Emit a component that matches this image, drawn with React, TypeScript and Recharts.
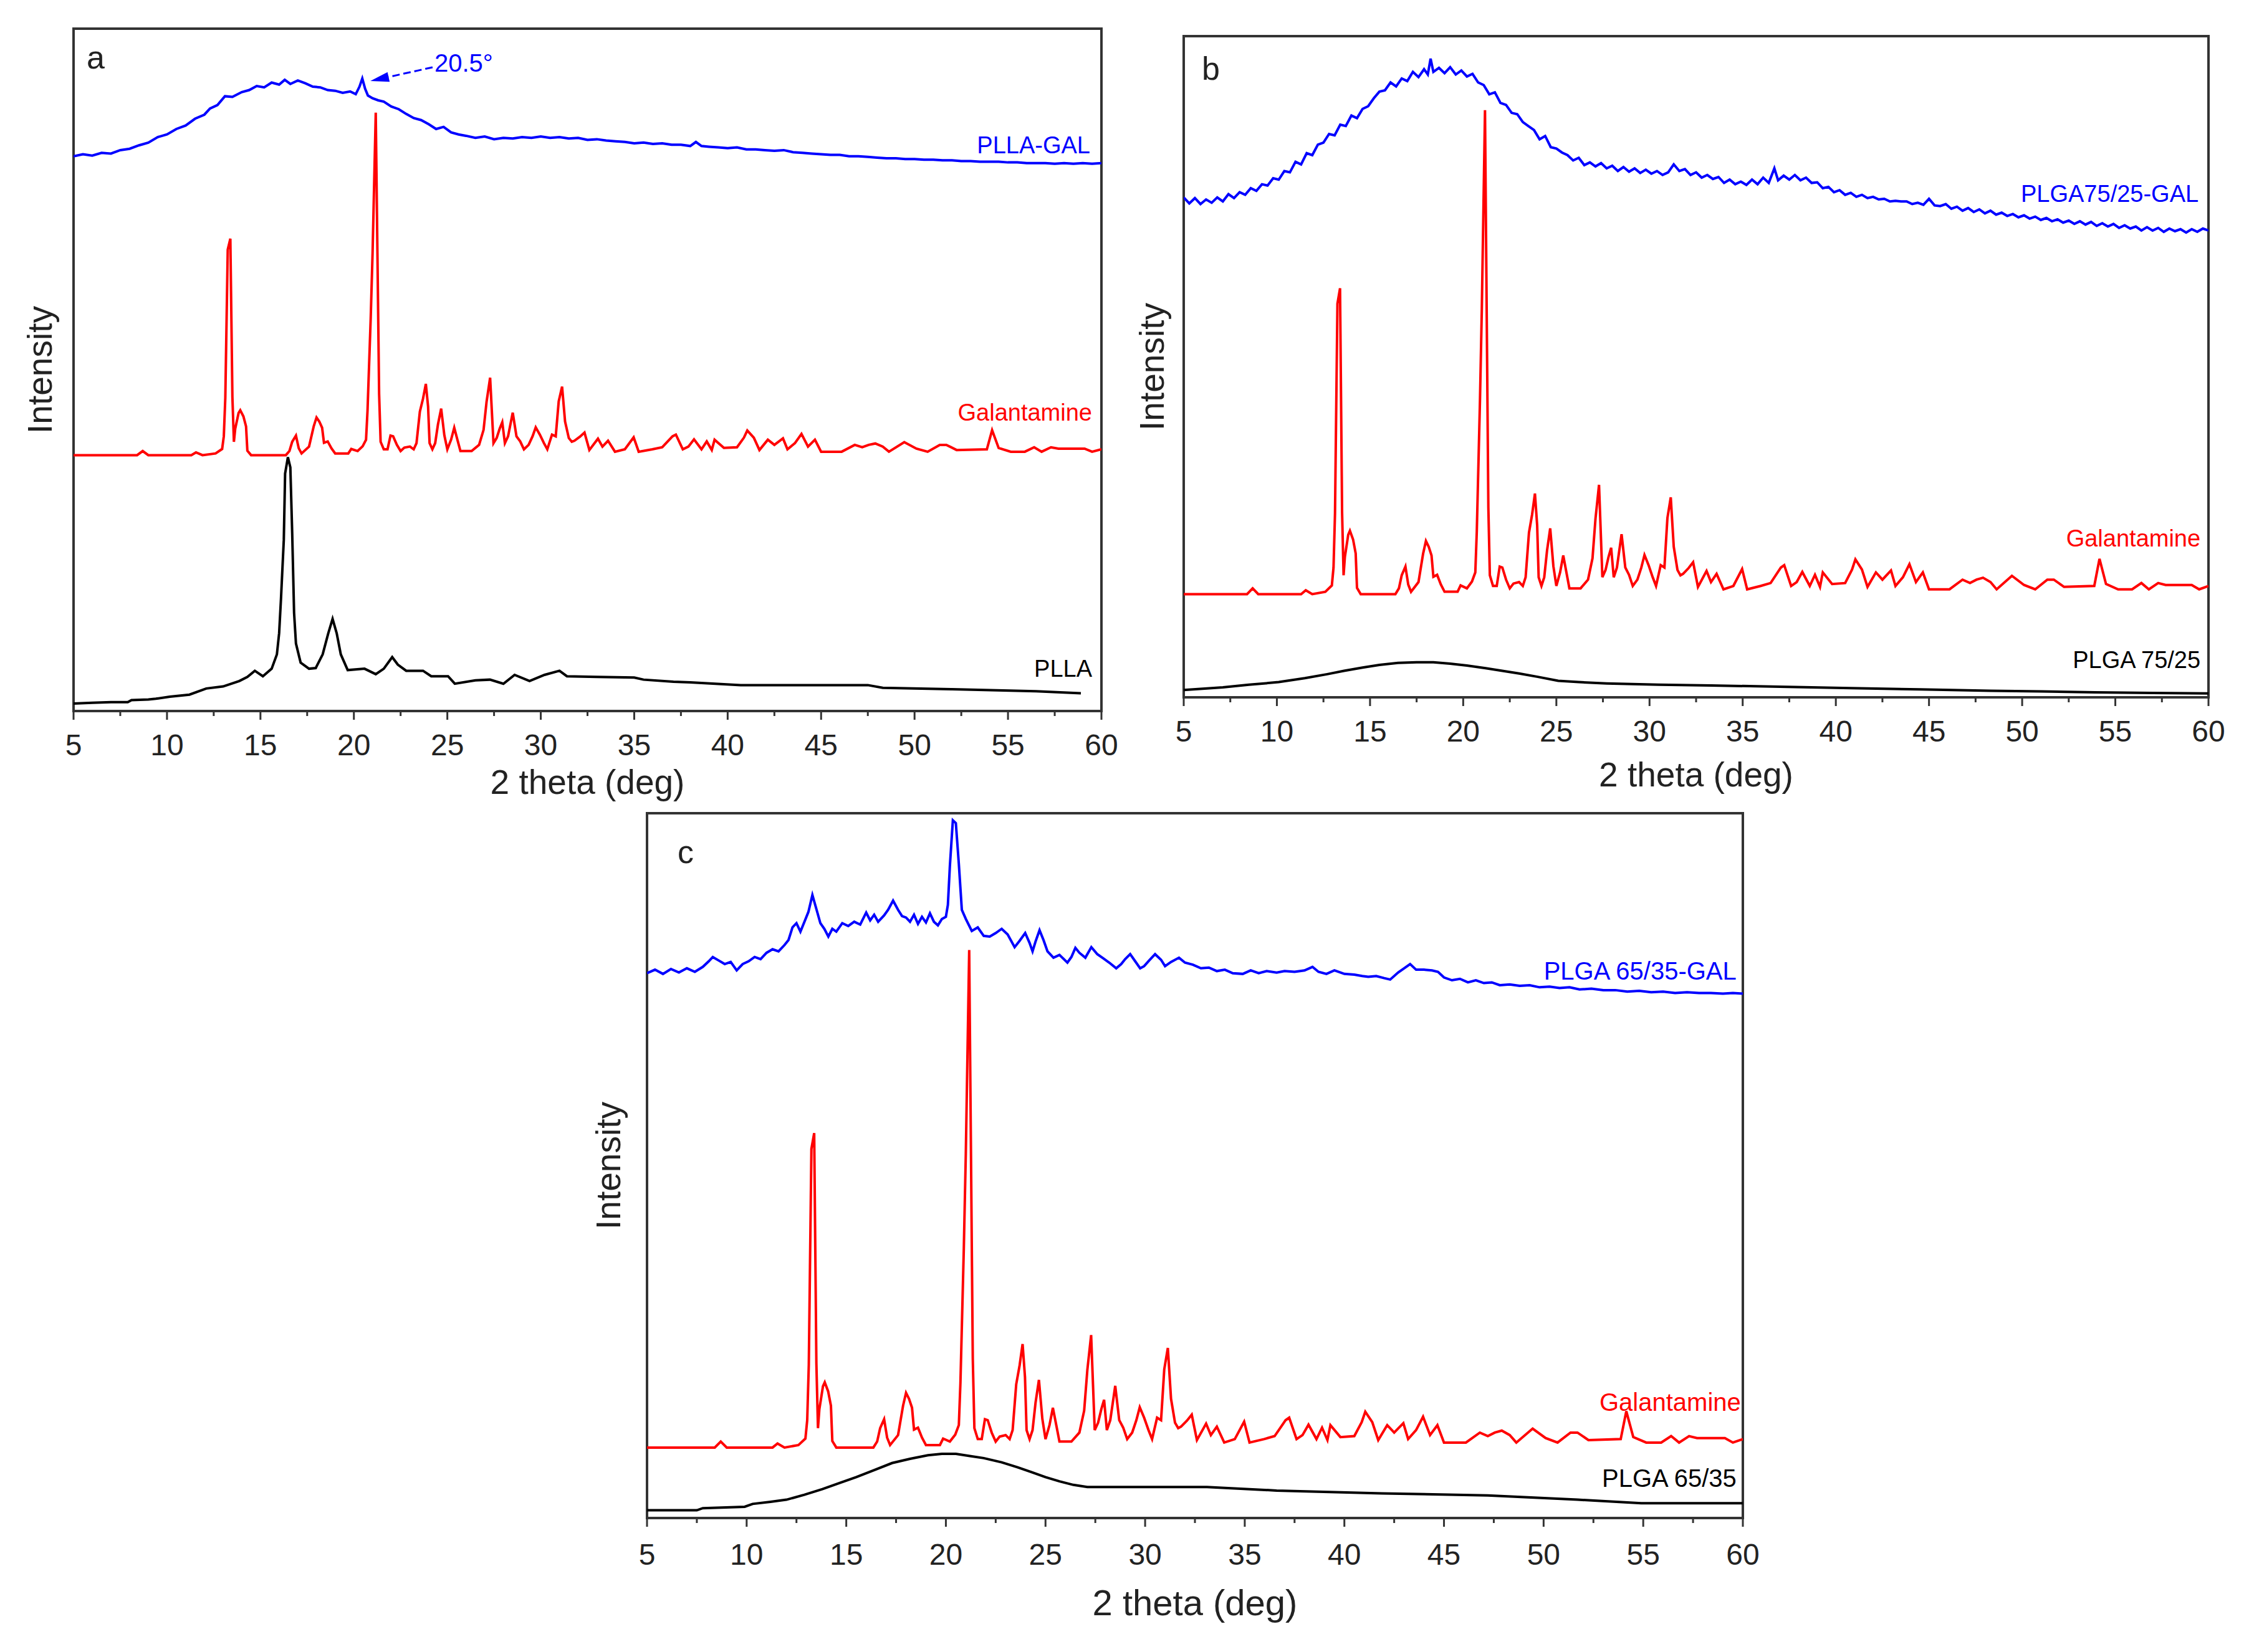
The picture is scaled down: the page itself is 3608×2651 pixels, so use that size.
import React from 'react';
import { LineChart, Line, XAxis, YAxis, ReferenceArea, ReferenceDot, ReferenceLine } from 'recharts';

const FONT = '"Liberation Sans", Arial, Helvetica, sans-serif';
const BLUE = '#0000ff';
const RED = '#ff0000';
const BLACK = '#000000';

// 2 theta ticks, minor ones every 2.5 deg
const thetaTicks = [5, 7.5, 10, 12.5, 15, 17.5, 20, 22.5, 25, 27.5, 30, 32.5, 35, 37.5, 40, 42.5, 45, 47.5, 50, 52.5, 55, 57.5, 60];

// Galantamine pattern, relative intensity (peak at 21.2 deg = 100), same in all panels
const galantamine: [number, number][] = [
  [5, 0], [8.4, 0], [8.7, 1.2], [9.0, 0], [11.3, 0], [11.55, 0.8], [11.9, 0], [12.6, 0.5], [12.95, 1.8], [13.04, 5.5],
  [13.12, 16.7], [13.25, 60], [13.39, 63.2], [13.5, 16.9], [13.58, 3.9], [13.65, 7.7], [13.83, 12.3], [13.92, 13.1],
  [14.09, 11.3], [14.23, 8.4], [14.3, 1.3], [14.5, 0], [16.36, 0], [16.55, 1.2], [16.7, 3.9], [16.9, 5.7], [17.05, 2],
  [17.2, 0.5], [17.6, 2.5], [17.85, 8.4], [18.0, 11.0], [18.15, 9.8], [18.3, 8], [18.4, 3.6], [18.6, 4], [18.8, 2],
  [19.0, 0.5], [19.7, 0.5], [19.86, 1.8], [20.2, 1.2], [20.47, 2.6], [20.65, 4.5], [20.73, 13], [20.9, 40], [21.0, 59],
  [21.17, 100], [21.35, 17.9], [21.43, 3.9], [21.6, 1.7], [21.8, 1.7], [21.96, 5.7], [22.1, 5.5], [22.3, 3], [22.5, 1.2],
  [22.7, 2.2], [23.0, 2.5], [23.2, 1.7], [23.35, 3.5], [23.53, 12.7], [23.7, 16.5], [23.85, 20.8], [23.97, 14.2],
  [24.05, 3.5], [24.2, 1.7], [24.35, 3.5], [24.5, 9], [24.67, 13.6], [24.84, 5.8], [25.0, 1.7], [25.2, 4.5], [25.37, 8],
  [25.54, 4.5], [25.7, 1.2], [26.3, 1.2], [26.7, 3], [26.94, 7.4], [27.1, 15.6], [27.29, 22.6], [27.47, 3.5], [27.64, 5],
  [27.8, 7.7], [27.94, 9.6], [28.08, 3.5], [28.25, 5.5], [28.5, 12.4], [28.7, 5.5], [28.9, 4], [29.1, 1.7], [29.35, 3],
  [29.56, 5.5], [29.73, 8.1], [29.95, 6], [30.17, 3.5], [30.35, 1.7], [30.6, 6], [30.8, 5.5], [30.96, 15.7], [31.14, 20],
  [31.3, 9.8], [31.5, 5], [31.66, 3.9], [31.8, 4.2], [32.1, 5.4], [32.34, 6.6], [32.6, 1.5], [33.06, 4.8], [33.3, 2.5],
  [33.6, 4.2], [33.97, 1], [34.5, 1.7], [34.97, 5.2], [35.24, 1], [35.97, 1.7], [36.5, 2.3], [37.05, 5.5], [37.23, 6],
  [37.6, 1.7], [37.9, 2.5], [38.2, 4.6], [38.6, 1.7], [38.88, 4], [39.15, 1.5], [39.3, 4.5], [39.8, 2.1], [40.5, 2.3],
  [40.87, 5.1], [41.05, 7.2], [41.4, 5.1], [41.7, 1.5], [42.15, 4.5], [42.5, 3.0], [42.96, 4.9], [43.2, 1.7], [43.6, 3.5],
  [43.95, 6.2], [44.3, 2.5], [44.67, 4.5], [45.0, 1], [46.1, 1], [46.8, 3], [47.2, 2.3], [47.55, 3], [47.9, 3.4],
  [48.3, 2.5], [48.63, 1], [49.45, 3.8], [50.1, 1.9], [50.7, 1], [51.35, 3], [51.7, 3], [52.25, 1.5], [53.87, 1.7],
  [54.15, 7.3], [54.5, 2.1], [55.15, 1], [55.9, 1], [56.4, 2.3], [56.8, 1], [57.3, 2.3], [57.7, 1.9], [59.1, 1.9],
  [59.5, 1], [60, 1.7],
];

// panel a, intensity in % of plot height
const pllaGal: [number, number][] = [
  [5, 81.3], [5.5, 81.6], [6, 81.4], [6.5, 81.8], [7, 81.7], [7.5, 82.2], [8, 82.4], [8.5, 82.9], [9, 83.3], [9.5, 84.1],
  [10, 84.5], [10.5, 85.3], [11, 85.8], [11.5, 86.8], [12, 87.4], [12.3, 88.3], [12.7, 88.8], [13.1, 90.1], [13.5, 90.0],
  [14, 90.7], [14.4, 91.0], [14.8, 91.6], [15.2, 91.4], [15.6, 92.1], [16, 91.8], [16.3, 92.5], [16.6, 91.9], [17, 92.4],
  [17.4, 92.0], [17.8, 91.5], [18.2, 91.4], [18.6, 91.0], [19, 90.9], [19.4, 90.6], [19.8, 90.8], [20.1, 90.4],
  [20.3, 91.5], [20.45, 92.7], [20.6, 91.2], [20.75, 90.2], [21, 89.8], [21.3, 89.5], [21.6, 89.3], [22, 88.6],
  [22.4, 88.2], [22.8, 87.5], [23.2, 86.9], [23.6, 86.6], [24, 86.0], [24.4, 85.3], [24.8, 85.6], [25.2, 84.8],
  [25.6, 84.5], [26, 84.3], [26.5, 84.0], [27, 84.2], [27.5, 83.8], [28, 84.0], [28.5, 83.9], [29, 84.1], [29.5, 84.0],
  [30, 84.2], [30.5, 84.0], [31, 84.1], [31.5, 83.9], [32, 84.0], [32.5, 83.7], [33, 83.8], [33.5, 83.6], [34, 83.5],
  [34.5, 83.4], [35, 83.2], [35.5, 83.3], [36, 83.1], [36.5, 83.2], [37, 83.0], [37.5, 83.0], [38, 82.8], [38.3, 83.4],
  [38.6, 82.8], [39, 82.7], [39.5, 82.6], [40, 82.5], [40.5, 82.6], [41, 82.3], [41.5, 82.3], [42, 82.2], [42.5, 82.1],
  [43, 82.2], [43.5, 81.9], [44, 81.8], [44.5, 81.7], [45, 81.6], [45.5, 81.5], [46, 81.5], [46.5, 81.3], [47, 81.3],
  [47.5, 81.2], [48, 81.1], [48.5, 81.0], [49, 81.0], [49.5, 80.9], [50, 80.9], [50.5, 80.8], [51, 80.8], [51.5, 80.7],
  [52, 80.7], [52.5, 80.6], [53, 80.6], [53.5, 80.5], [54, 80.5], [54.5, 80.5], [55, 80.4], [55.5, 80.4], [56, 80.3],
  [56.5, 80.3], [57, 80.3], [57.5, 80.2], [58, 80.3], [58.5, 80.2], [59, 80.3], [59.5, 80.2], [60, 80.3],
];

const plla: [number, number][] = [
  [5, 1.1], [6, 1.2], [7, 1.3], [7.9, 1.3], [8.1, 1.6], [9, 1.7], [9.4, 1.8], [10.15, 2.1], [11.2, 2.4], [12.1, 3.3],
  [13.0, 3.6], [13.87, 4.4], [14.3, 5.0], [14.7, 5.9], [15.13, 5.1], [15.6, 6.2], [15.88, 8.3], [16.0, 11.4],
  [16.1, 16.5], [16.25, 25.1], [16.32, 34.8], [16.47, 37.2], [16.6, 35.7], [16.7, 26.0], [16.8, 14.4], [16.9, 9.9],
  [17.15, 7.1], [17.6, 6.2], [17.96, 6.3], [18.33, 8.3], [18.63, 11.4], [18.86, 13.5], [19.08, 11.4], [19.3, 8.3],
  [19.67, 6.0], [20.57, 6.2], [21.17, 5.4], [21.6, 6.2], [22.05, 7.9], [22.35, 6.8], [22.8, 5.9], [23.7, 5.9],
  [24.14, 5.1], [25.04, 5.1], [25.4, 4.0], [26.5, 4.5], [27.28, 4.6], [28.0, 4.0], [28.6, 5.3], [29.4, 4.4],
  [30.2, 5.3], [31.0, 5.9], [31.4, 5.1], [33, 5.0], [35, 4.9], [35.5, 4.6], [37.1, 4.3], [38, 4.2], [40.7, 3.8],
  [44.7, 3.8], [47.5, 3.8], [48.3, 3.4], [52.0, 3.2], [56.5, 2.9], [58.9, 2.6],
];

// panel b
const plga7525Gal: [number, number][] = [
  [5, 75.6], [5.3, 74.7], [5.6, 75.5], [5.9, 74.6], [6.2, 75.3], [6.5, 74.8], [6.8, 75.6], [7.1, 75.0], [7.4, 76.1],
  [7.7, 75.5], [8.0, 76.4], [8.3, 76.0], [8.6, 77.0], [8.9, 76.6], [9.2, 77.6], [9.5, 77.4], [9.8, 78.5], [10.1, 78.3],
  [10.4, 79.6], [10.7, 79.4], [11.0, 81.0], [11.3, 80.6], [11.6, 82.3], [11.9, 82.0], [12.2, 83.6], [12.5, 83.9],
  [12.8, 85.2], [13.1, 85.0], [13.4, 86.6], [13.7, 86.4], [14.0, 88.0], [14.3, 87.6], [14.6, 89.0], [14.9, 89.4],
  [15.2, 90.6], [15.5, 91.6], [15.8, 91.8], [16.1, 93.0], [16.4, 92.4], [16.7, 93.6], [17.0, 93.2], [17.3, 94.6],
  [17.6, 93.8], [17.9, 95.0], [18.1, 94.2], [18.25, 96.6], [18.4, 94.6], [18.7, 95.2], [19.0, 94.4], [19.3, 95.3],
  [19.6, 94.2], [19.9, 94.8], [20.2, 93.9], [20.5, 94.3], [20.8, 93.0], [21.1, 92.6], [21.4, 91.2], [21.7, 91.5],
  [22.0, 89.9], [22.3, 89.6], [22.6, 88.4], [22.9, 88.2], [23.2, 87.0], [23.5, 86.4], [23.8, 85.8], [24.1, 84.4],
  [24.4, 84.9], [24.7, 83.2], [25.0, 83.0], [25.3, 82.4], [25.6, 82.0], [25.9, 81.2], [26.2, 81.6], [26.5, 80.5],
  [26.8, 80.9], [27.1, 80.3], [27.4, 80.8], [27.7, 80.0], [28.0, 80.4], [28.3, 79.6], [28.6, 80.2], [28.9, 79.5],
  [29.2, 80.0], [29.5, 79.3], [29.8, 79.8], [30.1, 79.2], [30.4, 79.6], [30.7, 79.0], [31.0, 79.4], [31.3, 80.6],
  [31.6, 79.6], [31.9, 79.9], [32.2, 79.0], [32.5, 79.4], [32.8, 78.6], [33.1, 79.0], [33.4, 78.4], [33.7, 78.7],
  [34.0, 77.8], [34.3, 78.3], [34.6, 77.6], [34.9, 78.0], [35.2, 77.5], [35.5, 78.3], [35.8, 77.6], [36.1, 78.6],
  [36.4, 77.8], [36.7, 80.0], [36.9, 78.2], [37.2, 78.9], [37.5, 78.3], [37.8, 79.0], [38.1, 78.2], [38.4, 78.6],
  [38.7, 77.8], [39.0, 77.9], [39.3, 77.0], [39.6, 77.2], [39.9, 76.4], [40.2, 76.7], [40.5, 76.0], [40.8, 76.3],
  [41.1, 75.7], [41.4, 76.0], [41.7, 75.5], [42.0, 75.7], [42.3, 75.3], [42.6, 75.4], [42.9, 75.0], [43.2, 75.1],
  [43.5, 75.0], [43.8, 75.0], [44.1, 74.6], [44.4, 74.8], [44.7, 74.5], [45.0, 75.4], [45.3, 74.4], [45.6, 74.3],
  [45.9, 74.6], [46.2, 73.9], [46.5, 74.2], [46.8, 73.6], [47.1, 74.0], [47.4, 73.4], [47.7, 73.8], [48.0, 73.2],
  [48.3, 73.6], [48.6, 73.0], [48.9, 73.3], [49.2, 72.8], [49.5, 73.1], [49.8, 72.6], [50.1, 72.9], [50.4, 72.4],
  [50.7, 72.7], [51.0, 72.2], [51.3, 72.5], [51.6, 72.0], [51.9, 72.3], [52.2, 71.8], [52.5, 72.1], [52.8, 71.6],
  [53.1, 72.0], [53.4, 71.5], [53.7, 71.9], [54.0, 71.3], [54.3, 71.7], [54.6, 71.2], [54.9, 71.6], [55.2, 71.0],
  [55.5, 71.4], [55.8, 70.9], [56.1, 71.2], [56.4, 70.6], [56.7, 71.1], [57.0, 70.6], [57.3, 71.0], [57.6, 70.4],
  [57.9, 70.9], [58.2, 70.5], [58.5, 70.8], [58.8, 70.3], [59.1, 70.8], [59.4, 70.4], [59.7, 70.9], [60, 70.6],
];

const plga7525: [number, number][] = [
  [5, 1.1], [6, 1.3], [7.1, 1.5], [8.5, 1.9], [10.1, 2.3], [11.5, 2.9], [12.7, 3.5], [13.6, 4.0], [14.6, 4.5],
  [15.5, 4.9], [16.5, 5.2], [17.5, 5.3], [18.4, 5.3], [19.3, 5.1], [20.2, 4.8], [21.2, 4.4], [22.1, 4.0], [23.0, 3.6],
  [24.0, 3.1], [25.1, 2.5], [26.2, 2.3], [27.7, 2.1], [30.5, 1.9], [33.3, 1.8], [37, 1.6], [40.8, 1.4], [44.5, 1.2],
  [48.3, 1.0], [51, 0.9], [53.9, 0.75], [57, 0.65], [60, 0.6],
];

// panel c
const plga6535Gal: [number, number][] = [
  [5, 77.3], [5.4, 77.8], [5.8, 77.2], [6.2, 77.9], [6.6, 77.4], [7.0, 78.0], [7.4, 77.5], [7.8, 78.2], [8.1, 79.0],
  [8.3, 79.6], [8.6, 79.1], [8.9, 78.6], [9.2, 78.9], [9.5, 77.7], [9.8, 78.6], [10.1, 79.0], [10.4, 79.6], [10.7, 79.3],
  [11.0, 80.2], [11.3, 80.7], [11.6, 80.4], [11.9, 81.3], [12.1, 82.0], [12.3, 83.8], [12.5, 84.4], [12.7, 83.2],
  [12.9, 84.6], [13.1, 86.0], [13.3, 88.4], [13.5, 86.4], [13.7, 84.4], [13.9, 83.6], [14.1, 82.5], [14.3, 83.6],
  [14.5, 83.2], [14.8, 84.4], [15.1, 84.0], [15.4, 84.6], [15.7, 84.2], [16.0, 85.9], [16.2, 84.8], [16.4, 85.6],
  [16.6, 84.6], [16.9, 85.5], [17.1, 86.3], [17.35, 87.6], [17.6, 86.3], [17.8, 85.4], [18.0, 85.2], [18.2, 84.6],
  [18.4, 85.6], [18.6, 84.3], [18.8, 85.3], [19.0, 84.5], [19.2, 85.8], [19.4, 84.6], [19.6, 84.1], [19.8, 85.0],
  [20.0, 85.3], [20.1, 87.0], [20.2, 92.5], [20.35, 99.0], [20.5, 98.6], [20.65, 92.8], [20.8, 86.3], [21.0, 85.0],
  [21.3, 83.3], [21.6, 83.8], [21.9, 82.6], [22.2, 82.5], [22.5, 83.0], [22.8, 83.6], [23.1, 82.8], [23.45, 81.0],
  [23.7, 81.9], [23.98, 83.0], [24.2, 81.6], [24.35, 80.4], [24.5, 81.8], [24.7, 83.4], [24.9, 82.0], [25.1, 80.4],
  [25.4, 79.5], [25.7, 79.9], [26.1, 78.8], [26.3, 79.6], [26.5, 80.9], [26.7, 80.2], [27.0, 79.5], [27.3, 81.0],
  [27.6, 80.0], [27.9, 79.4], [28.2, 78.8], [28.55, 78.0], [28.8, 78.6], [29.0, 79.3], [29.25, 80.0], [29.5, 79.0],
  [29.75, 78.0], [29.95, 78.3], [30.2, 79.1], [30.5, 80.0], [30.8, 79.2], [31.0, 78.3], [31.3, 78.9], [31.7, 79.5],
  [32.0, 78.8], [32.4, 78.5], [32.8, 78.0], [33.2, 78.1], [33.6, 77.6], [34.0, 77.8], [34.4, 77.3], [34.9, 77.2],
  [35.3, 77.7], [35.7, 77.3], [36.1, 77.6], [36.6, 77.4], [37.0, 77.6], [37.5, 77.5], [38.0, 77.7], [38.4, 78.2],
  [38.7, 77.5], [39.1, 77.2], [39.5, 77.7], [40.0, 77.2], [40.5, 77.1], [40.9, 76.9], [41.2, 76.8], [41.6, 76.9],
  [42.0, 76.6], [42.3, 76.4], [42.7, 77.4], [43.0, 78.0], [43.3, 78.6], [43.6, 77.8], [44.0, 77.8], [44.4, 77.7],
  [44.7, 77.5], [45.0, 76.7], [45.4, 76.3], [45.8, 76.5], [46.2, 76.0], [46.6, 76.3], [47.0, 75.9], [47.4, 76.0],
  [47.8, 75.6], [48.3, 75.7], [48.8, 75.5], [49.3, 75.6], [49.8, 75.3], [50.3, 75.4], [50.8, 75.2], [51.3, 75.3],
  [51.8, 75.0], [52.4, 75.1], [53.0, 74.9], [53.6, 74.9], [54.2, 74.7], [54.8, 74.8], [55.4, 74.6], [56.0, 74.7],
  [56.6, 74.5], [57.2, 74.6], [57.8, 74.5], [58.4, 74.5], [59.0, 74.4], [59.5, 74.5], [60, 74.4],
];

const plga6535: [number, number][] = [
  [5, 1.1], [7.5, 1.1], [7.8, 1.4], [9.9, 1.6], [10.3, 2.0], [11.2, 2.3], [12.0, 2.6], [12.9, 3.3], [13.8, 4.1],
  [14.7, 5.0], [15.5, 5.8], [16.4, 6.8], [17.3, 7.8], [18.2, 8.4], [19.1, 8.9], [19.8, 9.1], [20.5, 9.1], [21.2, 8.8],
  [21.9, 8.5], [22.8, 7.9], [23.6, 7.2], [24.3, 6.5], [25.0, 5.8], [25.7, 5.2], [26.4, 4.7], [27.1, 4.4], [30, 4.4],
  [33.1, 4.4], [36.6, 3.9], [41.9, 3.5], [47.2, 3.2], [51.7, 2.6], [54.9, 2.1], [60, 2.1],
];

const toPts = (arr: [number, number][]) => arr.map(([x, y]) => ({ x, y }));
// place the galantamine pattern in a panel's stack
const placeGal = (base: number, span: number) => galantamine.map(([x, y]) => ({ x, y: base + (y * span) / 100 }));

const panels = [
  {
    id: 'a', box: { left: 8, top: 36, width: 1799, height: 1275 }, yw: 110, titleOff: 37, tickGap: 71, titleSize: 55,
    letter: { x: 5.7, y: 94.2 },
    series: [
      { name: 'PLLA-GAL', color: BLUE, data: toPts(pllaGal), w: 4, label: { x: 59.4, y: 81.7, size: 38 } },
      { name: 'Galantamine', color: RED, data: placeGal(37.5, 50.2), w: 4, label: { x: 59.5, y: 42.6, size: 38 } },
      { name: 'PLLA', color: BLACK, data: toPts(plla), w: 4, label: { x: 59.5, y: 5.0, size: 38 } },
    ],
  },
  {
    id: 'b', box: { left: 1795, top: 48, width: 1788, height: 1241 }, yw: 104, titleOff: 27, tickGap: 71, titleSize: 55,
    letter: { x: 5.97, y: 93.4 },
    series: [
      { name: 'PLGA75/25-GAL', color: BLUE, data: toPts(plga7525Gal), w: 4, label: { x: 59.47, y: 74.9, size: 38 } },
      { name: 'Galantamine', color: RED, data: placeGal(15.6, 73.2), w: 4, label: { x: 59.57, y: 22.8, size: 38 } },
      { name: 'PLGA 75/25', color: BLACK, data: toPts(plga7525), w: 4, label: { x: 59.57, y: 4.4, size: 38 } },
    ],
  },
  {
    id: 'c', box: { left: 912, top: 1295, width: 1924, height: 1311 }, yw: 126, titleOff: 14, tickGap: 75, titleSize: 58,
    letter: { x: 6.53, y: 92.9 },
    series: [
      { name: 'PLGA 65/35-GAL', color: BLUE, data: toPts(plga6535Gal), w: 4, label: { x: 59.68, y: 76.4, size: 40 } },
      { name: 'Galantamine', color: RED, data: placeGal(10.0, 70.6), w: 4, label: { x: 59.9, y: 15.2, size: 40 } },
      { name: 'PLGA 65/35', color: BLACK, data: toPts(plga6535), w: 4, label: { x: 59.68, y: 4.4, size: 40 } },
    ],
  },
];

// 20.5 deg arrow in panel a
const arrowNote = { from: { x: 24.21, y: 94.34 }, to: { x: 20.88, y: 92.33 }, text: { x: 24.31, y: 93.7 } };

const makeTick = (gap: number) => (p: any) => {
  const v = p.payload.value;
  const major = v % 5 === 0;
  return (
    <g>
      <line x1={p.x} x2={p.x} y1={p.y} y2={p.y + (major ? 14 : 8)} stroke="#333" strokeWidth={3} />
      {major && (
        <text x={p.x} y={p.y + gap} textAnchor="middle" fontSize={48} fill="#222" fontFamily={FONT}>
          {v}
        </text>
      )}
    </g>
  );
};

const tag = (key: string, x: number, y: number, text: string, color: string, size: number, anchor: string) => (
  <ReferenceDot
    key={key}
    x={x}
    y={y}
    r={0}
    ifOverflow="visible"
    shape={(s: any) => (
      <text x={s.cx} y={s.cy} textAnchor={anchor} fontSize={size} fill={color} fontFamily={FONT}>
        {text}
      </text>
    )}
  />
);

function Panel({ p }: { p: any }) {
  return (
    <div style={{ position: 'absolute', left: p.box.left, top: p.box.top }}>
      <LineChart width={p.box.width} height={p.box.height} margin={{ top: 10, right: 40, bottom: 0, left: 0 }}>
        <XAxis
          dataKey="x"
          type="number"
          domain={[5, 60]}
          allowDataOverflow
          ticks={thetaTicks}
          interval={0}
          height={170}
          tickSize={0}
          tickMargin={0}
          tickLine={false}
          axisLine={false}
          tick={makeTick(p.tickGap)}
          label={{ value: '2 theta (deg)', position: 'insideBottom', offset: p.titleOff, fontSize: p.titleSize, fill: '#222', fontFamily: FONT }}
        />
        <YAxis
          type="number"
          domain={[0, 100]}
          allowDataOverflow
          width={p.yw}
          tick={false}
          tickLine={false}
          axisLine={false}
          label={{ value: 'Intensity', angle: -90, position: 'center', fontSize: 55, fill: '#222', fontFamily: FONT }}
        />
        <ReferenceArea x1={5} x2={60} y1={0} y2={100} fill="none" stroke="#333" strokeWidth={4} />
        {p.series.map((s: any) => (
          <Line
            key={s.name}
            data={s.data}
            dataKey="y"
            type="linear"
            stroke={s.color}
            strokeWidth={s.w}
            dot={false}
            activeDot={false}
            isAnimationActive={false}
          />
        ))}
        {p.series.map((s: any) => tag(p.id + s.name, s.label.x, s.label.y, s.name, s.color, s.label.size, 'end'))}
        {tag(p.id + 'letter', p.letter.x, p.letter.y, p.id, '#222', 52, 'start')}
        {p.id === 'a' && tag('note', arrowNote.text.x, arrowNote.text.y, '20.5°', BLUE, 40, 'start')}
        {p.id === 'a' && (
          <ReferenceLine
            segment={[arrowNote.from, arrowNote.to]}
            ifOverflow="visible"
            shape={(s: any) => {
              const { x1, y1, x2, y2 } = s;
              const dx = x2 - x1;
              const dy = y2 - y1;
              const len = Math.hypot(dx, dy) || 1;
              const ux = dx / len;
              const uy = dy / len;
              const bx = x2 - ux * 30;
              const by = y2 - uy * 30;
              return (
                <g>
                  <line x1={x1} y1={y1} x2={bx} y2={by} stroke={BLUE} strokeWidth={3} strokeDasharray="12 6" />
                  <polygon points={`${x2},${y2} ${bx - uy * 8},${by + ux * 8} ${bx + uy * 8},${by - ux * 8}`} fill={BLUE} />
                </g>
              );
            }}
          />
        )}
      </LineChart>
    </div>
  );
}

export default function App() {
  return (
    <div style={{ position: 'absolute', left: 0, top: 0, width: 3608, height: 2651, background: '#fff' }}>
      {panels.map((p) => (
        <Panel key={p.id} p={p} />
      ))}
    </div>
  );
}
